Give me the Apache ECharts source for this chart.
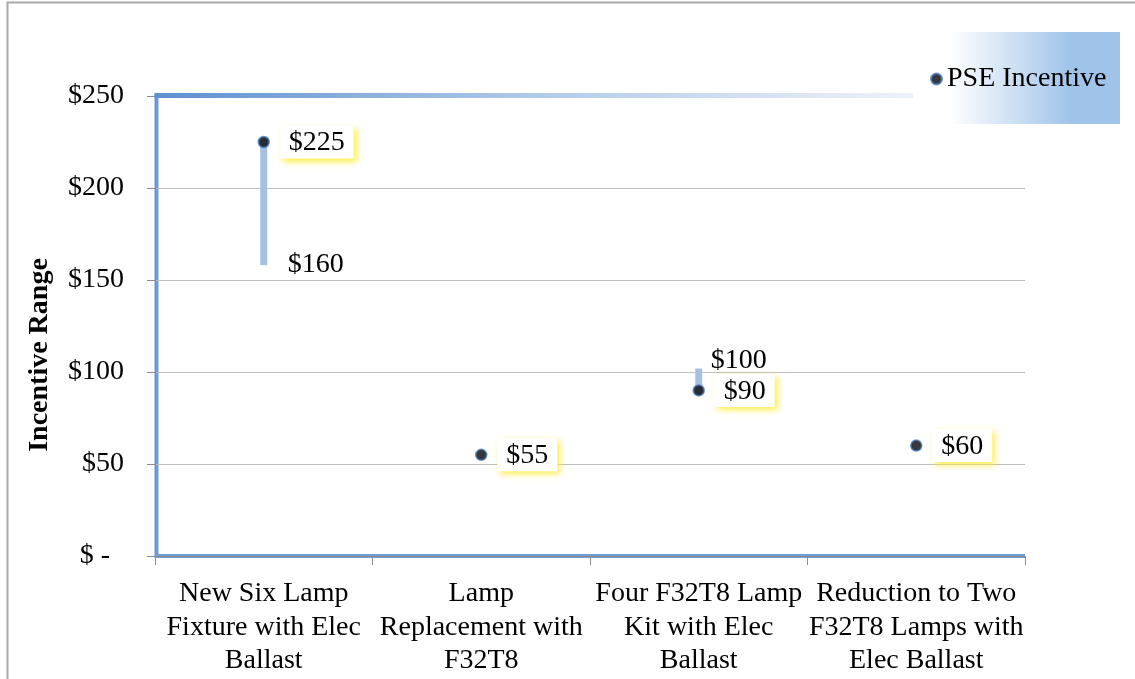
<!DOCTYPE html>
<html>
<head>
<meta charset="utf-8">
<script src="https://cdn.jsdelivr.net/npm/echarts@6/dist/echarts.min.js"></script>
<style>
  html, body { margin: 0; padding: 0; background: #fff; }
  #chart { width: 1135px; height: 679px; }
</style>
</head>
<body>
<div id="chart"></div>
<script>
// Lighting measures shown on the category axis
const categories = [
  'New Six Lamp\nFixture with Elec\nBallast',
  'Lamp\nReplacement with\nF32T8',
  'Four F32T8 Lamp\nKit with Elec\nBallast',
  'Reduction to Two\nF32T8 Lamps with\nElec Ballast'
];
// PSE incentive per measure ($)
const pseIncentive = [225, 55, 90, 60];
// Incentive range per measure ($); null where there is no range
const rangeLow = [160, null, 90, null];
const rangeHigh = [225, null, 100, null];
// Value axis ticks
const yMin = 0, yMax = 250, yStep = 50;

const FONT = "'Liberation Serif', 'Times New Roman', serif";
const FS = 28;
const G = { left: 155, right: 110, top: 96, bottom: 123 };
const W = 1135, H = 679;

const rangeRows = [];
categories.forEach((c, i) => {
  if (rangeLow[i] != null && rangeHigh[i] != null) {
    rangeRows.push([i, rangeLow[i], rangeHigh[i], pseIncentive[i]]);
  }
});
const pointRows = pseIncentive.map((v, i) => [i, v]);

// text width helper for the boxed value labels
const measureCtx = document.createElement('canvas').getContext('2d');
function textWidth(str) {
  measureCtx.font = FS + 'px ' + FONT;
  return measureCtx.measureText(str).width;
}

const chart = echarts.init(document.getElementById('chart'), null, { renderer: 'canvas' });

const x0 = G.left, x1 = W - G.right, yTop = G.top, yBot = H - G.bottom;

chart.setOption({
  animation: false,
  backgroundColor: '#fff',
  textStyle: { fontFamily: FONT },
  grid: { left: G.left, right: G.right, top: G.top, bottom: G.bottom, containLabel: false },
  legend: {
    data: ['PSE Incentive'],
    left: 930, top: 63, padding: 0, z: 10,
    icon: 'circle', itemWidth: 11, itemHeight: 11,
    textStyle: { fontFamily: FONT, fontSize: FS, color: '#000', lineHeight: 32 }
  },
  xAxis: {
    type: 'category',
    data: categories,
    boundaryGap: true,
    axisLine: { lineStyle: { color: '#8c8c8c', width: 1 } },
    axisTick: { show: true, length: 9, lineStyle: { color: '#8c8c8c' } },
    axisLabel: {
      interval: 0, margin: 21, color: '#000',
      fontFamily: FONT, fontSize: FS, lineHeight: 33.5, align: 'center'
    },
    splitLine: { show: false }
  },
  yAxis: {
    type: 'value',
    min: yMin, max: yMax, interval: yStep,
    axisLine: { show: true, lineStyle: { color: '#8c8c8c', width: 1 } },
    axisTick: { show: true, length: 8, lineStyle: { color: '#8c8c8c' } },
    splitLine: { show: true, lineStyle: { color: '#bdbdbd', width: 1 } },
    axisLabel: {
      margin: 31, color: '#000', fontFamily: FONT, fontSize: FS,
      formatter: v => v === 0 ? '{z|$ -}' : '$' + v,
      rich: { z: { fontFamily: FONT, fontSize: FS, color: '#000', padding: [0, 14, 0, 0] } }
    }
  },
  graphic: [
    // outer frame
    { type: 'rect', z: -20, shape: { x: 7.5, y: 2.5, width: W + 10, height: H + 10 },
      style: { fill: null, stroke: '#a9a9a9', lineWidth: 2 } },
    // plot-area frame: left and bottom
    { type: 'line', z: -5, shape: { x1: x0 + 1.5, y1: yTop - 2, x2: x0 + 1.5, y2: yBot + 2 },
      style: { stroke: '#6d9cd7', lineWidth: 4 } },
    { type: 'line', z: -5, shape: { x1: x0, y1: yBot, x2: x1, y2: yBot },
      style: { stroke: '#6d9cd7', lineWidth: 4 } },
    // plot-area frame: fading top edge
    { type: 'line', z: 5, shape: { x1: x0 - 0.5, y1: yTop - 0.5, x2: x1 + 1, y2: yTop - 0.5 },
      style: { lineWidth: 5, stroke: new echarts.graphic.LinearGradient(0, 0, 1, 0, [
        { offset: 0, color: '#5e8fd1' }, { offset: 0.45, color: '#b3cbe9' },
        { offset: 0.868, color: '#edf2f9' }, { offset: 0.869, color: '#ffffff' },
        { offset: 1, color: '#ffffff' }
      ]) } },
    // legend backdrop
    { type: 'rect', z: 6, shape: { x: 930, y: 32, width: 190, height: 92 },
      style: { fill: new echarts.graphic.LinearGradient(0, 0, 1, 0, [
        { offset: 0, color: 'rgba(255,255,255,0)' }, { offset: 0.1, color: '#ffffff' },
        { offset: 0.75, color: '#9fc3e9' }, { offset: 1, color: '#9fc3e9' }
      ]) } },
    // value axis title
    { type: 'text', z: 5, x: 40, y: 355, rotation: Math.PI / 2,
      style: { text: 'Incentive Range', font: 'bold ' + FS + 'px ' + FONT, fill: '#000',
        align: 'center', verticalAlign: 'middle' } }
  ],
  series: [
    {
      name: 'Range',
      type: 'custom',
      z: 2,
      data: rangeRows,
      encode: { x: 0, y: [1, 2] },
      renderItem: (params, api) => {
        const i = api.value(0), lo = api.value(1), hi = api.value(2), pt = api.value(3);
        const pLo = api.coord([i, lo]);
        const pHi = api.coord([i, hi]);
        const w = 7, cap = 3.5;
        const children = [{
          type: 'rect',
          shape: { x: pLo[0] - w / 2, y: pHi[1] - cap, width: w, height: pLo[1] - pHi[1] + 2 * cap },
          style: { fill: '#a6c0e1' }
        }];
        const font = FS + 'px ' + FONT;
        if (lo !== pt) {
          children.push({ type: 'text', x: pLo[0] + 24, y: pLo[1] + 3,
            style: { text: '$' + lo, font, fill: '#000', verticalAlign: 'middle' } });
        }
        if (hi !== pt) {
          children.push({ type: 'text', x: pHi[0] + 12, y: pHi[1] - 11,
            style: { text: '$' + hi, font, fill: '#000', verticalAlign: 'middle' } });
        }
        return { type: 'group', children };
      }
    },
    {
      // boxed value labels beside each incentive point
      name: 'PSE Labels',
      type: 'custom',
      z: 3,
      data: pointRows,
      encode: { x: 0, y: 1 },
      silent: true,
      renderItem: (params, api) => {
        const v = api.value(1);
        const p = api.coord([api.value(0), v]);
        const str = '$' + v;
        const tw = textWidth(str);
        const bx = p[0] + 16, bw = tw + 18, bh = 33, by = p[1] - bh / 2;
        return {
          type: 'group',
          children: [
            { type: 'rect', shape: { x: bx, y: by, width: bw, height: bh },
              style: { fill: '#ffffff', shadowColor: 'rgba(255, 236, 60, 0.9)',
                shadowBlur: 6, shadowOffsetX: 3, shadowOffsetY: 3 } },
            { type: 'text', x: bx + 9, y: p[1] + 1,
              style: { text: str, font: FS + 'px ' + FONT, fill: '#000', verticalAlign: 'middle' } }
          ]
        };
      }
    },
    {
      name: 'PSE Incentive',
      type: 'scatter',
      z: 4,
      data: pseIncentive,
      symbol: 'circle',
      symbolSize: 11,
      itemStyle: { color: '#05060c', borderColor: '#4a7fc0', borderWidth: 1.5 },
      emphasis: { disabled: true }
    }
  ]
});
</script>
</body>
</html>
